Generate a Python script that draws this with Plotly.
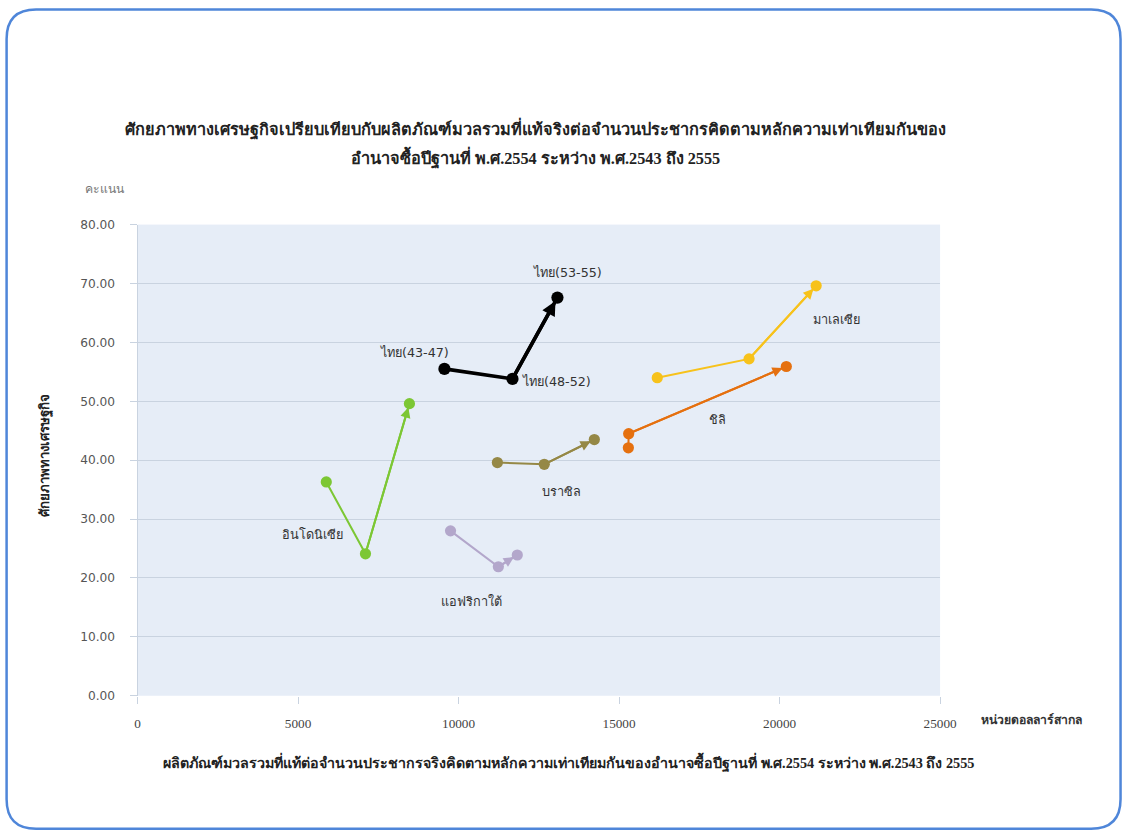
import plotly.graph_objects as go

# GDP per capita (PPP, 2011 base) in international dollars, and economic potential score
series_names = ["ไทย", "มาเลเซีย", "ชิลิ", "บราซิล", "แอฟริกาใต้", "อินโดนิเซีย"]
thai_x = [9560, 11680, 13080]
thai_y = [55.5, 53.8, 67.6]
malaysia_x = [16190, 19050, 21140]
malaysia_y = [54.0, 57.2, 69.6]
chile_x = [15290, 15300, 20210]
chile_y = [42.1, 44.5, 55.9]
brazil_x = [11210, 12670, 14230]
brazil_y = [39.6, 39.3, 43.5]
africa_x = [9750, 11240, 11830]
africa_y = [28.0, 21.9, 23.9]
indonesia_x = [5880, 7100, 8470]
indonesia_y = [36.3, 24.1, 49.6]

colors = ["#000000", "#F7C21B", "#E5700F", "#958846", "#B3A7CB", "#7CC734"]
line_widths = [3.5, 2, 2, 2, 2, 2]
marker_sizes = [12, 11, 11, 11, 11, 11]

xs = [thai_x, malaysia_x, chile_x, brazil_x, africa_x, indonesia_x]
ys = [thai_y, malaysia_y, chile_y, brazil_y, africa_y, indonesia_y]

y_ticks = [0, 10, 20, 30, 40, 50, 60, 70, 80]
x_ticks = [0, 5000, 10000, 15000, 20000, 25000]

title_line1 = "ศักยภาพทางเศรษฐกิจเปรียบเทียบกับผลิตภัณฑ์มวลรวมที่แท้จริงต่อจำนวนประชากรคิดตามหลักความเท่าเทียมกันของ"
title_line2 = "อำนาจซื้อปีฐานที่ พ.ศ.2554 ระหว่าง พ.ศ.2543 ถึง 2555"
x_title = "ผลิตภัณฑ์มวลรวมที่แท้ต่อจำนวนประชากรจริงคิดตามหลักความเท่าเทียมกันของอำนาจซื้อปีฐานที่ พ.ศ.2554 ระหว่าง พ.ศ.2543 ถึง 2555"
y_title = "ศักยภาพทางเศรษฐกิจ"
y_unit = "คะแนน"
x_unit = "หน่วยดอลลาร์สากล"

# point labels: (series index, point index, text, x shift px, y shift px)
point_labels = [
    (0, 0, "ไทย(43-47)", -29, 16),
    (0, 1, "ไทย(48-52)", 43, -3),
    (0, 2, "ไทย(53-55)", 10, 25),
    (1, 2, "มาเลเซีย", 20, -33),
    (2, 2, "ชิลิ", -68, -52),
    (3, 1, "บราซิล", 17, -27),
    (4, 1, "แอฟริกาใต้", -26, -34),
    (5, 1, "อินโดนิเซีย", -52, 19),
]

# layout is designed in screen pixels, then mapped into figure pixels
SCALE, OFF_X, OFF_Y = 0.983, 2.4, 6.5
W, H = 1140, 842


def fx(px):
    return (px - OFF_X) / SCALE


def fy(py):
    return (py - OFF_Y) / SCALE


def sz(v):
    return v / SCALE


def paper_x(px):
    return fx(px) / W


def paper_y(py):
    return 1 - fy(py) / H


plot_left, plot_right, plot_top, plot_bottom = 137, 940, 224, 695

fig = go.Figure()
for name, x, y, c, lw, ms in zip(series_names, xs, ys, colors, line_widths, marker_sizes):
    fig.add_trace(go.Scatter(
        x=x, y=y, mode="lines+markers", name=name,
        line=dict(color=c, width=sz(lw)),
        marker=dict(color=c, size=sz(ms)),
        showlegend=False, hoverinfo="x+y",
    ))

annotations = []
# arrowheads on the last segment of each series
for x, y, c, lw in zip(xs, ys, colors, line_widths):
    annotations.append(dict(
        x=x[-1], y=y[-1], ax=x[-2], ay=y[-2],
        xref="x", yref="y", axref="x", ayref="y",
        showarrow=True, arrowhead=2, arrowsize=0.8 if lw > 3 else 1.0,
        arrowwidth=sz(lw), arrowcolor=c, standoff=4, text="",
    ))

label_font = dict(family="Tahoma, DejaVu Sans, sans-serif", size=sz(12.5), color="#333333")
for si, pi, txt, dx, dy in point_labels:
    annotations.append(dict(
        x=xs[si][pi], y=ys[si][pi], xref="x", yref="y", text=txt,
        showarrow=False, xshift=sz(dx), yshift=sz(dy), xanchor="center", yanchor="middle",
        font=label_font,
    ))


def paper_text(px, py, text, font, angle=0):
    return dict(x=paper_x(px), y=paper_y(py), xref="paper", yref="paper",
                text=text, showarrow=False, xanchor="center", yanchor="middle",
                textangle=angle, font=font)


serif_bold = "Liberation Serif, serif"
annotations += [
    paper_text(535, 128, "<b>" + title_line1 + "</b>", dict(family=serif_bold, size=sz(16), color="#222222")),
    paper_text(535, 157, "<b>" + title_line2 + "</b>", dict(family=serif_bold, size=sz(16), color="#222222")),
    paper_text(104, 188, y_unit, dict(family="Tahoma, DejaVu Sans, sans-serif", size=sz(12), color="#777777")),
    paper_text(1031, 719, "<b>" + x_unit + "</b>", dict(family=serif_bold, size=sz(12), color="#333333")),
    paper_text(568, 762, "<b>" + x_title + "</b>", dict(family=serif_bold, size=sz(14), color="#222222")),
    paper_text(45, 455, "<b>" + y_title + "</b>", dict(family=serif_bold, size=sz(13), color="#222222"), angle=-90),
]

# rounded frame around the whole chart
r = 30
lw_frame = 2.5
x0 = max(fx(6), lw_frame) / W
x1 = min(fx(1121), W - lw_frame) / W
y0 = 1 - max(fy(4), lw_frame) / H
y1 = 1 - min(fy(828), H - lw_frame) / H
rx, ry = r / W, r / H
frame_path = (f"M {x0 + rx},{y0} L {x1 - rx},{y0} Q {x1},{y0} {x1},{y0 - ry} "
              f"L {x1},{y1 + ry} Q {x1},{y1} {x1 - rx},{y1} L {x0 + rx},{y1} "
              f"Q {x0},{y1} {x0},{y1 + ry} L {x0},{y0 - ry} Q {x0},{y0} {x0 + rx},{y0} Z")

fig.update_layout(
    width=W, height=H,
    margin=dict(l=0, r=0, t=0, b=0),
    paper_bgcolor="white",
    plot_bgcolor="#E6EDF7",
    annotations=annotations,
    shapes=[dict(type="path", path=frame_path, xref="paper", yref="paper",
                 line=dict(color="#4F86D9", width=lw_frame), layer="above")],
    xaxis=dict(
        domain=[paper_x(plot_left), paper_x(plot_right)], range=[0, 25000],
        tickvals=x_ticks, ticktext=[str(v) for v in x_ticks],
        showgrid=False, zeroline=False, showline=False,
        ticks="outside", ticklen=7, tickcolor="#C9D3E0",
        ticklabelstandoff=8,
        tickfont=dict(family="Liberation Serif, serif", size=sz(13), color="#444444"),
    ),
    yaxis=dict(
        domain=[paper_y(plot_bottom), paper_y(plot_top)], range=[0, 80],
        tickvals=y_ticks, ticktext=[f"{v:.2f}" for v in y_ticks],
        showgrid=True, gridcolor="#C9D3E0", gridwidth=1, zeroline=False,
        showline=True, linecolor="#C9D3E0",
        ticks="outside", ticklen=7, tickcolor="#C9D3E0",
        ticklabelstandoff=12,
        tickfont=dict(family="Tahoma, DejaVu Sans, sans-serif", size=sz(12), color="#555555"),
    ),
)

fig.write_html("out.html")
